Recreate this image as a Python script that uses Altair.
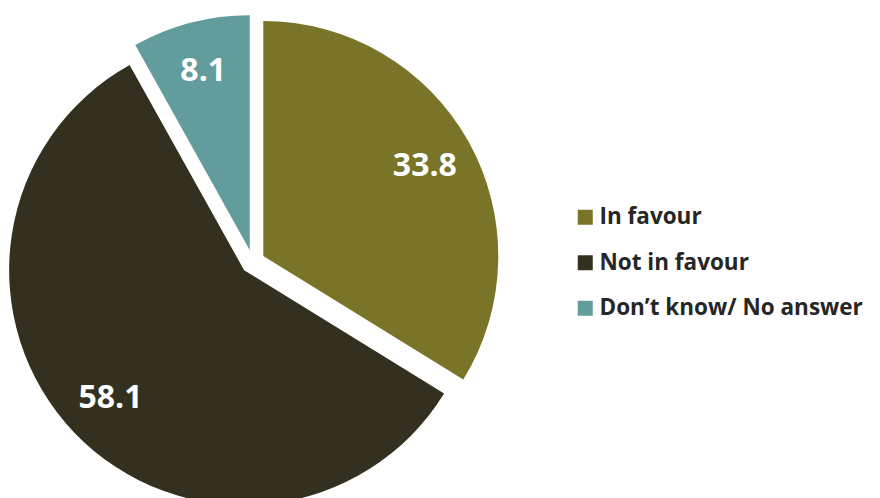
import altair as alt
import pandas as pd

# ---- data ----
categories = ["In favour", "Not in favour", "Don\u2019t know/ No answer"]
values = [33.8, 58.1, 8.1]
colors = ["#7A7428", "#34301F", "#639C9C"]

df = pd.DataFrame({"category": categories, "value": values, "order": list(range(len(categories)))})

# ---- layout constants (pixels in plot area) ----
CX, CY = 244.8, 253.9
R = 235
EXPLODE = 12
LABEL_R = 185

base = (
    alt.Chart(df)
    .transform_joinaggregate(total="sum(value)")
    .transform_window(cum="sum(value)", sort=[alt.SortField("order")], frame=[None, 0])
    .transform_calculate(
        a0="2*PI*(datum.cum - datum.value)/datum.total",
        a1="2*PI*datum.cum/datum.total",
    )
    .transform_calculate(mid="(datum.a0 + datum.a1)/2")
    .transform_calculate(
        cx=f"{CX} + {EXPLODE}*sin(datum.mid)",
        cy=f"{CY} - {EXPLODE}*cos(datum.mid)",
    )
)

arcs = base.mark_arc(radius=R).encode(
    x=alt.X("cx:Q", scale=None, axis=None),
    y=alt.Y("cy:Q", scale=None, axis=None),
    theta=alt.Theta("a0:Q", scale=None),
    theta2="a1:Q",
    color=alt.Color(
        "category:N",
        sort=categories,
        scale=alt.Scale(domain=categories, range=colors),
        legend=alt.Legend(
            title=None,
            orient="none",
            legendX=566,
            legendY=198,
            symbolType="square",
            symbolSize=225,
            symbolStrokeWidth=0,
            symbolOpacity=1,
            labelFont="Open Sans",
            labelFontSize=22.5,
            labelFontWeight="bold",
            labelColor="#262626",
            labelOffset=3,
            labelLimit=400,
            rowPadding=22.5,
            padding=0,
        ),
    ),
)

labels = base.mark_text(
    radius=LABEL_R,
    font="Open Sans",
    fontSize=32,
    fontWeight="bold",
    color="white",
    align="center",
    baseline="middle",
).encode(
    x=alt.X("cx:Q", scale=None, axis=None),
    y=alt.Y("cy:Q", scale=None, axis=None),
    theta=alt.Theta("mid:Q", scale=None),
    text=alt.Text("value:Q", format=".1f"),
)

chart = (
    alt.layer(arcs, labels)
    .properties(width=864, height=490, padding=0, autosize=alt.AutoSizeParams(type="none"))
    .configure_view(stroke=None)
)

chart.save("out.html", embed_options={"renderer": "svg", "actions": False})
